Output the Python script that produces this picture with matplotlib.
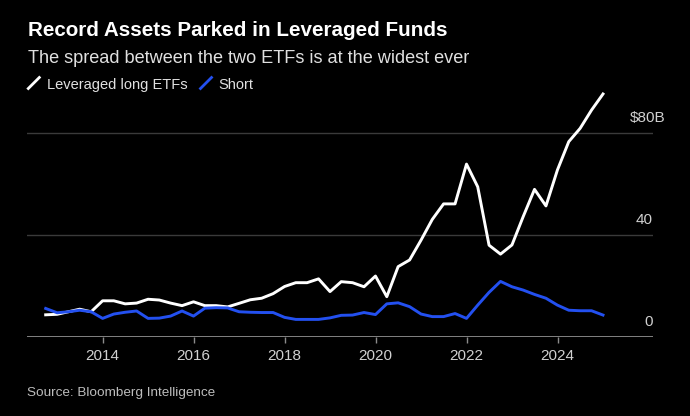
#!/usr/bin/env python3
import numpy as np
import pandas as pd
import matplotlib
matplotlib.use('Agg')
import matplotlib.pyplot as plt
import matplotlib.dates as mdates
from matplotlib.lines import Line2D

plt.rcParams['font.family'] = ['Liberation Sans', 'DejaVu Sans']

# Data preparation (quarter-end assets, $ billions)
dates = pd.date_range('2012-09-30', periods=50, freq='QE')
long_etfs = [8.7, 8.9, 9.9, 10.9, 9.9, 14.2, 14.2, 13.0, 13.3, 14.8,
             14.5, 13.3, 12.3, 13.8, 12.3, 12.3, 11.8, 13.2, 14.6, 15.2,
             17.0, 19.8, 21.3, 21.3, 22.8, 17.8, 21.7, 21.3, 19.7, 23.9,
             15.8, 27.6, 30.2, 38.0, 46.1, 52.2, 52.2, 67.8, 58.9, 36.0,
             32.5, 36.1, 47.2, 57.9, 51.4, 65.5, 76.6, 81.8, 89.0, 95.3]
short_etfs = [11.2, 9.5, 9.9, 10.5, 9.9, 7.3, 9.0, 9.7, 10.2, 7.3,
              7.4, 8.2, 10.2, 8.2, 11.3, 11.5, 11.4, 9.9, 9.7, 9.6,
              9.6, 7.7, 6.9, 6.9, 6.9, 7.5, 8.5, 8.6, 9.6, 8.8,
              13.0, 13.4, 11.9, 9.0, 8.0, 8.0, 9.2, 7.3, 12.5, 17.5,
              21.8, 19.7, 18.4, 16.7, 15.2, 12.5, 10.5, 10.3, 10.3, 8.6]
y_ticks = [0, 40, 80]
y_labels = ['0', '40', '$80B']
x_years = [2014, 2016, 2018, 2020, 2022, 2024]

W, H = 690, 416
fig = plt.figure(figsize=(W / 100, H / 100), dpi=100, facecolor='black')
ax = fig.add_axes([27 / W, 1 - 337 / H, (652.7 - 27) / W, 255 / H])
ax.set_facecolor('black')

# grid lines
for v in y_ticks[1:]:
    ax.axhline(v, color='#3a3a3a', lw=1.0, zorder=1)
ax.axhline(0, color='#8c8c8c', lw=1.3, zorder=2)

ax.plot(dates, long_etfs, color='white', lw=2.1, zorder=3, solid_joinstyle='round')
ax.plot(dates, short_etfs, color='#2350f0', lw=2.1, zorder=4, solid_joinstyle='round')

ax.set_ylim(0, 100)
ax.set_xlim(pd.Timestamp('2012-05-03'), pd.Timestamp('2026-02-03'))
ax.set_xticks([pd.Timestamp(f'{y}-01-01') for y in x_years])
ax.xaxis.set_major_formatter(mdates.DateFormatter('%Y'))
ax.tick_params(axis='x', colors='#8c8c8c', length=4, width=1, pad=5,
               labelcolor='#d0d0d0', labelsize=11)
ax.set_yticks([])
for s in ax.spines.values():
    s.set_visible(False)

# right-side value labels sitting above gridlines (unit suffix hangs past the edge)
for v, lab in zip(y_ticks, y_labels):
    dx = 9.5 if lab.endswith('B') else 0
    ax.annotate(lab, xy=(1, v), xycoords=('axes fraction', 'data'),
                xytext=(dx, 6), textcoords='offset points',
                ha='right', va='bottom', color='#d0d0d0', fontsize=11)

# titles
fig.text(28 / W, 1 - 36 / H, 'Record Assets Parked in Leveraged Funds',
         color='white', fontsize=14.9, fontweight='bold', va='baseline')
fig.text(28 / W, 1 - 63 / H, 'The spread between the two ETFs is at the widest ever',
         color='#e0e0e0', fontsize=13.1, va='baseline')

# legend
fig.add_artist(Line2D([28.3 / W, 39.3 / W], [1 - 88.5 / H, 1 - 77.5 / H],
                      color='white', lw=2.0))
fig.text(47 / W, 1 - 89 / H, 'Leveraged long ETFs', color='#e0e0e0',
         fontsize=10.5, va='baseline')
fig.add_artist(Line2D([200.5 / W, 211.5 / W], [1 - 88.5 / H, 1 - 77.5 / H],
                      color='#2350f0', lw=2.0))
fig.text(218 / W, 1 - 89 / H, 'Short', color='#e0e0e0',
         fontsize=10.5, va='baseline')

fig.text(27 / W, 1 - 393 / H, 'Source: Bloomberg Intelligence',
         color='#bdbdbd', fontsize=9.7, va='center')

fig.savefig('out.png', dpi=100, facecolor='black')
